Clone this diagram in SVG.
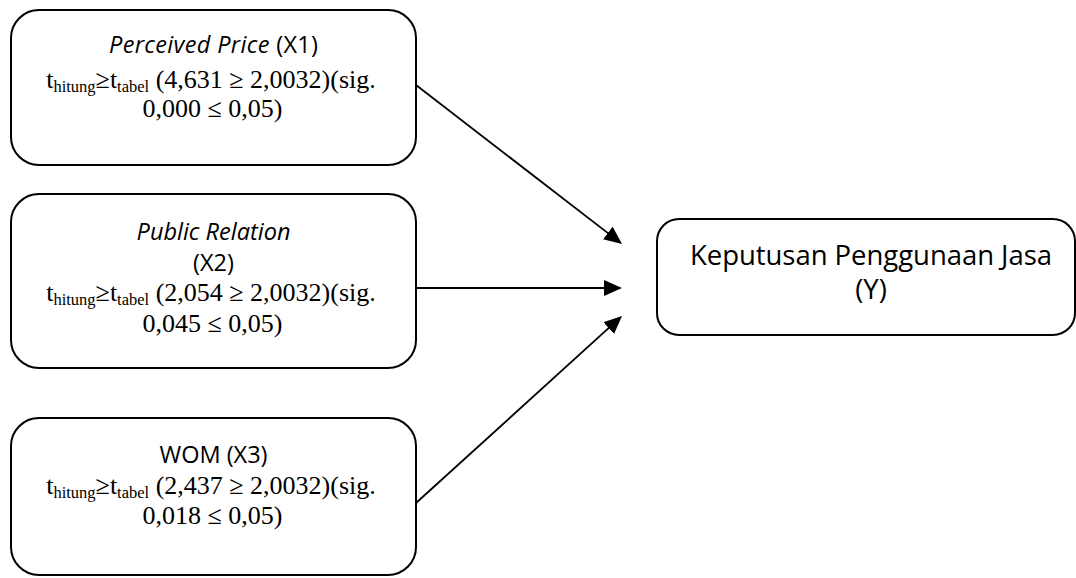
<svg xmlns="http://www.w3.org/2000/svg" width="1076" height="578" viewBox="0 0 1076 578">
<style>
.box{fill:#fff;stroke:#000;stroke-width:2}
.sans{font-family:"Open Sans","Noto Sans",sans-serif;font-size:23.5px;fill:#000}
.big{font-size:27.5px}
.serif{font-family:"Liberation Serif","Times New Roman",serif;font-size:26px;fill:#000}
.sub{font-size:16.5px}
.conn{stroke:#000;stroke-width:1.8;fill:none;marker-end:url(#ah)}
.it{font-style:italic}
</style>
<defs>
<marker id="ah" viewBox="0 0 18 16" refX="8" refY="8" markerWidth="18" markerHeight="16" markerUnits="userSpaceOnUse" orient="auto">
<path d="M0,0 L18,8 L0,16 z" fill="#000"/>
</marker>
</defs>
<rect width="1076" height="578" fill="#fff"/>
<g id="connectors">
<line class="conn" x1="416" y1="85" x2="614.1" y2="237.9"/>
<line class="conn" x1="416" y1="288" x2="612" y2="288"/>
<line class="conn" x1="416" y1="503" x2="614.6" y2="322.7"/>
</g>
<g id="x1">
<rect class="box" x="11" y="10" width="405" height="155" rx="28"/>
<text class="sans" x="213.5" y="53" text-anchor="middle" textLength="209"><tspan class="it">Perceived Price</tspan> (X1)</text>
<text class="serif" x="211" y="88" text-anchor="middle">t<tspan class="sub" dy="4">hitung</tspan><tspan dy="-4">≥t</tspan><tspan class="sub" dy="4">tabel</tspan><tspan dy="-4"> (4,631 ≥ 2,0032)(sig.</tspan></text>
<text class="serif" x="212.5" y="117" text-anchor="middle">0,000 ≤ 0,05)</text>
</g>
<g id="x2">
<rect class="box" x="11" y="194" width="405" height="174" rx="28"/>
<text class="sans it" x="213.5" y="240" text-anchor="middle">Public Relation</text>
<text class="sans" x="213.5" y="271" text-anchor="middle">(X2)</text>
<text class="serif" x="211" y="301" text-anchor="middle">t<tspan class="sub" dy="4">hitung</tspan><tspan dy="-4">≥t</tspan><tspan class="sub" dy="4">tabel</tspan><tspan dy="-4"> (2,054 ≥ 2,0032)(sig.</tspan></text>
<text class="serif" x="212.5" y="332" text-anchor="middle">0,045 ≤ 0,05)</text>
</g>
<g id="x3">
<rect class="box" x="11" y="418" width="405" height="157" rx="28"/>
<text class="sans" x="213.5" y="463" text-anchor="middle">WOM (X3)</text>
<text class="serif" x="211" y="494" text-anchor="middle">t<tspan class="sub" dy="4">hitung</tspan><tspan dy="-4">≥t</tspan><tspan class="sub" dy="4">tabel</tspan><tspan dy="-4"> (2,437 ≥ 2,0032)(sig.</tspan></text>
<text class="serif" x="212.5" y="524" text-anchor="middle">0,018 ≤ 0,05)</text>
</g>
<g id="y">
<rect class="box" x="657" y="219" width="418" height="116" rx="22"/>
<text class="sans big" x="871" y="265" text-anchor="middle" textLength="362">Keputusan Penggunaan Jasa</text>
<text class="sans big" x="871" y="299" text-anchor="middle">(Y)</text>
</g>
</svg>
